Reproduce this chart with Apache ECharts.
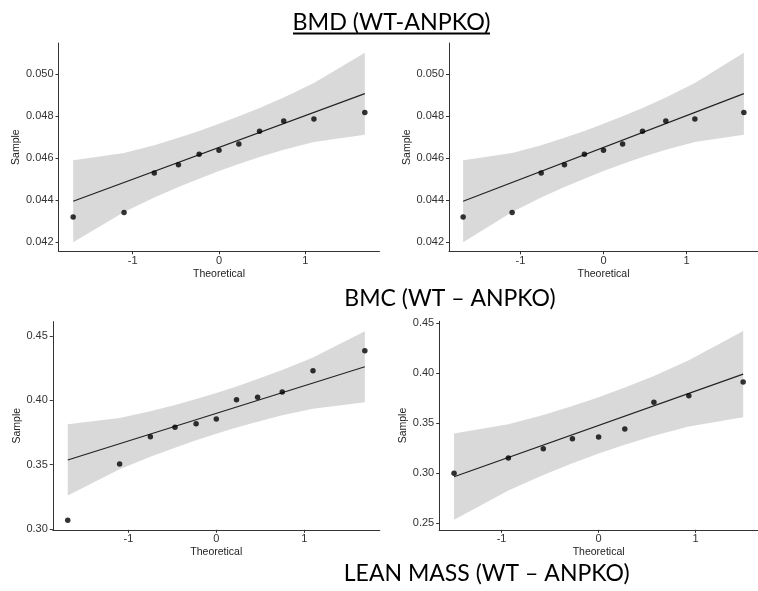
<!DOCTYPE html>
<html>
<head>
<meta charset="utf-8">
<script src="https://cdn.jsdelivr.net/npm/echarts@6/dist/echarts.min.js"></script>
<style>
html,body{margin:0;padding:0;background:#fff;}
#c{width:758px;height:591px;}
</style>
</head>
<body>
<div id="c"></div>
<script>
// Theoretical quantiles
const theo11 = [-1.69, -1.10, -0.75, -0.47, -0.23, 0, 0.23, 0.47, 0.75, 1.10, 1.69];
const theo9 = [-1.49, -0.93, -0.57, -0.27, 0, 0.27, 0.57, 0.93, 1.49];

// BMD (top panels, both identical)
const bmdSample = [0.04319, 0.04340, 0.04529, 0.04568, 0.04618, 0.04638, 0.04668, 0.04729, 0.04778, 0.04787, 0.04818];
const bmdLine = [0.04394, 0.04908];
const bmdUpper = [0.04590, 0.04625, 0.04662, 0.04697, 0.04730, 0.04764, 0.04800, 0.04840, 0.04890, 0.04959, 0.05104];
const bmdLower = [0.04198, 0.04343, 0.04412, 0.04462, 0.04502, 0.04538, 0.04572, 0.04605, 0.04640, 0.04677, 0.04712];

// BMC (bottom left)
const bmcSample = [0.3068, 0.3505, 0.3718, 0.3791, 0.3819, 0.3855, 0.4005, 0.4024, 0.4065, 0.4231, 0.4386];
const bmcLine = [0.3537, 0.4262];
const bmcUpper = [0.3814, 0.3863, 0.3915, 0.3964, 0.4011, 0.4058, 0.4109, 0.4166, 0.4236, 0.4334, 0.4538];
const bmcLower = [0.3261, 0.3465, 0.3563, 0.3633, 0.3690, 0.3741, 0.3789, 0.3835, 0.3884, 0.3936, 0.3985];

// Lean mass (bottom right)
const leanSample = [0.3000, 0.3153, 0.3246, 0.3346, 0.3363, 0.3443, 0.3710, 0.3776, 0.3913];
const leanLine = [0.2966, 0.3992];
const leanUpper = [0.3398, 0.3490, 0.3582, 0.3672, 0.3761, 0.3858, 0.3974, 0.4130, 0.4423];
const leanLower = [0.2535, 0.2828, 0.2984, 0.3100, 0.3197, 0.3286, 0.3376, 0.3468, 0.3560];

// Tick labels
const xTicks = [-1, 0, 1];
const bmdTicks = [0.042, 0.044, 0.046, 0.048, 0.050];
const massTicks = [0.25, 0.30, 0.35, 0.40, 0.45];
const bmcTicks = [0.30, 0.35, 0.40, 0.45];

const titles = ['BMD (WT-ANPKO)', 'BMC (WT \u2013 ANPKO)', 'LEAN MASS (WT \u2013 ANPKO)'];

const FONT = "'Liberation Sans', Arial, sans-serif";
const AX = '#333';

const panels = [
  {grid:{left:58.5, top:43, width:321, height:208.3}, xr:[-1.86,1.86], yr:[0.04155,0.0515], yt:bmdTicks, dec:3, xs:theo11, s:bmdSample, l:bmdLine, up:bmdUpper, lo:bmdLower, gap:34, fs:11},
  {grid:{left:449, top:43, width:321, height:208.3}, xr:[-1.86,1.86], yr:[0.04155,0.0515], yt:bmdTicks, dec:3, xs:theo11, s:bmdSample, l:bmdLine, up:bmdUpper, lo:bmdLower, gap:34, fs:11},
  {grid:{left:52.8, top:321.6, width:327, height:208.2}, xr:[-1.86,1.86], yr:[0.2994,0.4613], yt:bmcTicks, dec:2, xs:theo11, s:bmcSample, l:bmcLine, up:bmcUpper, lo:bmcLower, gap:30, fs:11},
  {grid:{left:439.2, top:321.3, width:327, height:208.5}, xr:[-1.643,1.643], yr:[0.2435,0.452], yt:massTicks, dec:2, xs:theo9, s:leanSample, l:leanLine, up:leanUpper, lo:leanLower, gap:30, fs:11}
];

const grid = [], xAxis = [], yAxis = [], series = [];
panels.forEach((p, i) => {
  grid.push(Object.assign({containLabel:false}, p.grid));
  xAxis.push({
    type:'value', gridIndex:i, min:p.xr[0], max:p.xr[1],
    name:'Theoretical', nameLocation:'middle', nameGap:17,
    nameTextStyle:{fontFamily:FONT, fontSize:10.5, color:'#222'},
    axisLine:{show:true, onZero:false, lineStyle:{color:AX, width:1}},
    axisTick:{show:true, length:3, lineStyle:{color:AX}, customValues:xTicks},
    axisLabel:{show:true, margin:4, fontFamily:FONT, fontSize:p.fs, color:'#333', customValues:xTicks, formatter:v=>String(v)},
    splitLine:{show:false}
  });
  yAxis.push({
    type:'value', gridIndex:i, min:p.yr[0], max:p.yr[1],
    name:'Sample', nameLocation:'middle', nameGap:p.gap,
    nameTextStyle:{fontFamily:FONT, fontSize:10.5, color:'#222'},
    axisLine:{show:true, onZero:false, lineStyle:{color:AX, width:1}},
    axisTick:{show:true, length:3, lineStyle:{color:AX}, customValues:p.yt},
    axisLabel:{show:true, margin:5, fontFamily:FONT, fontSize:p.fs, color:'#333', customValues:p.yt, formatter:v=>v.toFixed(p.dec)},
    splitLine:{show:false}
  });
  const xs = p.xs, up = p.up, lo = p.lo;
  series.push({
    type:'custom', xAxisIndex:i, yAxisIndex:i, silent:true, z:1,
    data: xs.map((x,k)=>[x, lo[k], up[k]]),
    encode:{x:0, y:[1,2]},
    renderItem:function(params, api){
      if (params.dataIndex !== 0) return null;
      const pts = [];
      for (let k=0;k<xs.length;k++) pts.push(api.coord([xs[k], up[k]]));
      for (let k=xs.length-1;k>=0;k--) pts.push(api.coord([xs[k], lo[k]]));
      return {type:'polygon', shape:{points:pts}, style:{fill:'#d9d9d9', stroke:null}};
    }
  });
  series.push({
    type:'line', xAxisIndex:i, yAxisIndex:i, silent:true, z:2,
    data:[[xs[0], p.l[0]], [xs[xs.length-1], p.l[1]]],
    symbol:'none', lineStyle:{color:'#222', width:1.2}
  });
  series.push({
    type:'scatter', xAxisIndex:i, yAxisIndex:i, silent:true, z:3,
    data: xs.map((x,k)=>[x, p.s[k]]),
    symbolSize:5.5, itemStyle:{color:'#000'}
  });
});

const TF = "Lato, 'Open Sans', sans-serif";
const graphic = [
  {type:'text', style:{text:titles[0], x:391.5, y:22, align:'center', verticalAlign:'middle', fontFamily:TF, fontSize:23.3, fill:'#000'}},
  {type:'line', shape:{x1:293, y1:33.5, x2:490, y2:33.5}, style:{stroke:'#000', lineWidth:2}},
  {type:'text', style:{text:titles[1], x:450, y:299, align:'center', verticalAlign:'middle', fontFamily:TF, fontSize:23, fill:'#000'}},
  {type:'text', style:{text:titles[2], x:486.7, y:574, align:'center', verticalAlign:'middle', fontFamily:TF, fontSize:23, fill:'#000'}}
];

const chart = echarts.init(document.getElementById('c'), null, {renderer:'canvas'});
chart.setOption({animation:false, backgroundColor:'#fff', grid, xAxis, yAxis, series, graphic});
</script>
</body>
</html>
